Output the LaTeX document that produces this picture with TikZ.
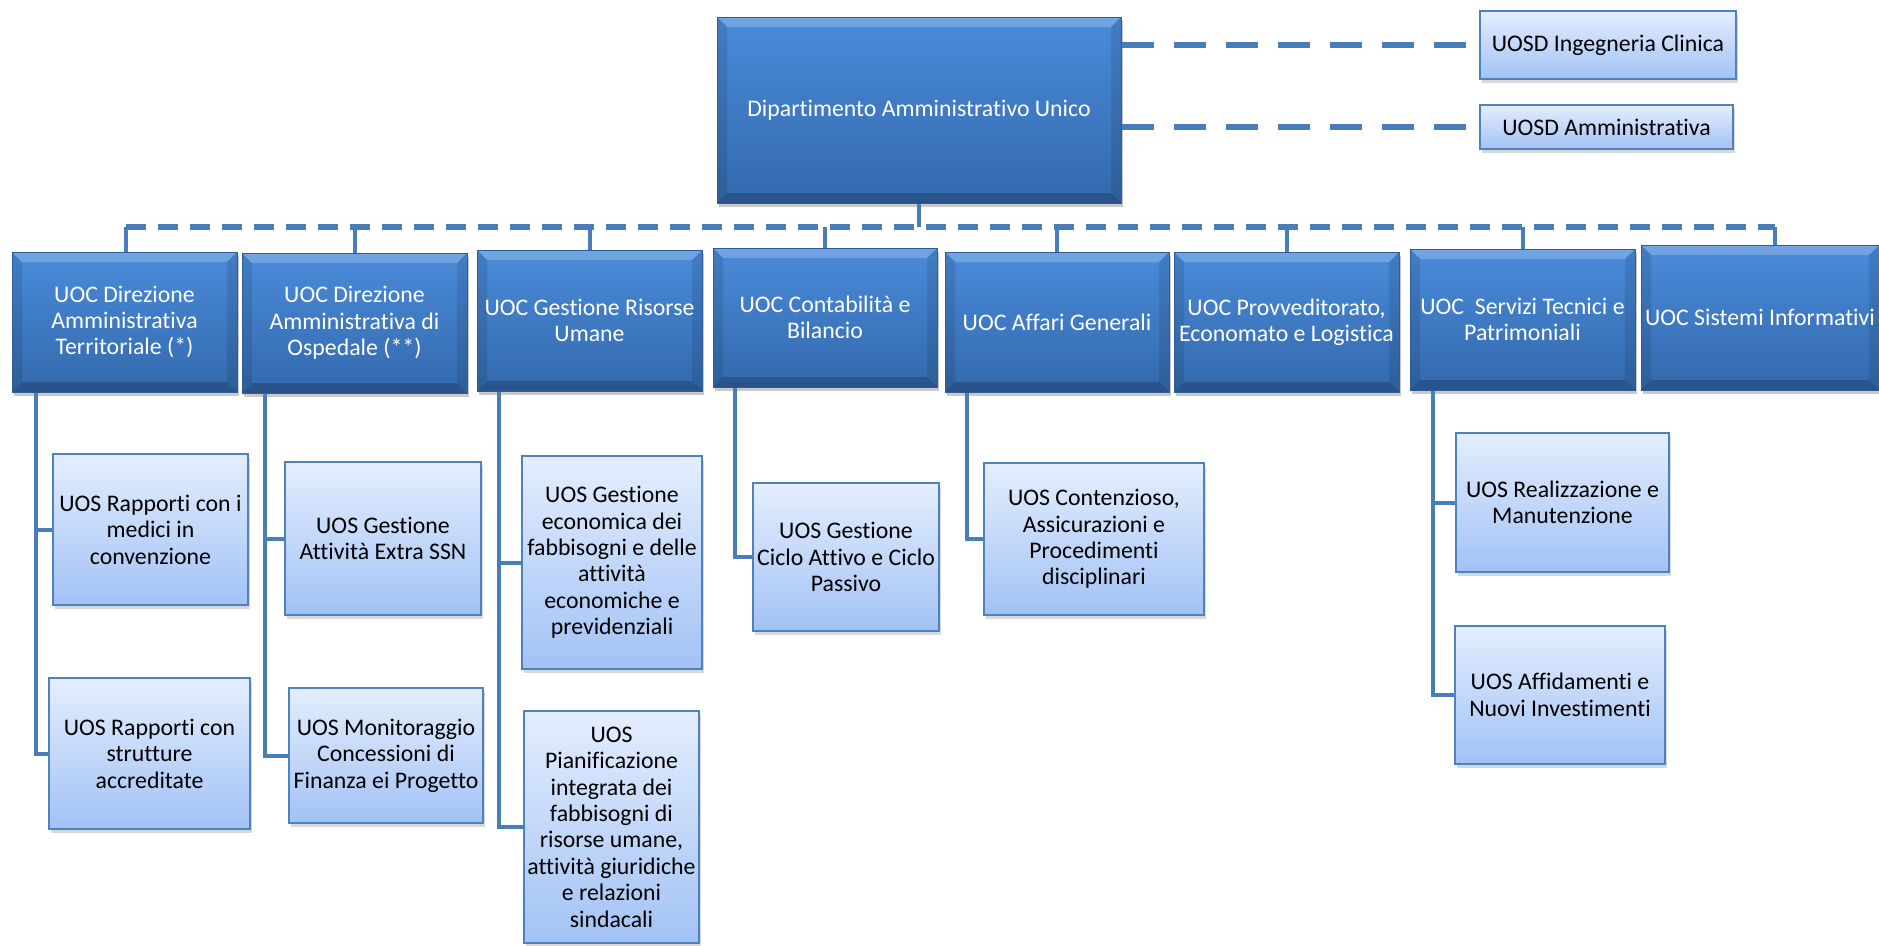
\documentclass[tikz,border=0pt]{standalone}
\usepackage{fontspec}
\setmainfont{Carlito}[Ligatures=NoCommon]
\usetikzlibrary{shadows}
\definecolor{linec}{HTML}{4A7EBB}
\definecolor{uoctop}{HTML}{4A8BDA}
\definecolor{uocbot}{HTML}{3369AC}
\definecolor{uocedge}{HTML}{2E5C94}
\definecolor{uostop}{HTML}{E4EEFE}
\definecolor{uosbot}{HTML}{A2C2F5}
\definecolor{uosedge}{HTML}{4F81BD}
\tikzset{
  txt/.style={font=\fontsize{23.8}{26.4}\selectfont, align=center, inner sep=0.5pt},
  bevel/.style={path picture={
    \fill[white,opacity=0.22] (path picture bounding box.north west) -- (path picture bounding box.north east)
      -- ([shift={(-10pt,-10pt)}]path picture bounding box.north east) -- ([shift={(10pt,-10pt)}]path picture bounding box.north west) -- cycle;
    \fill[black,opacity=0.20] (path picture bounding box.south west) -- (path picture bounding box.south east)
      -- ([shift={(-10pt,10pt)}]path picture bounding box.south east) -- ([shift={(10pt,10pt)}]path picture bounding box.south west) -- cycle;
    \fill[black,opacity=0.10] (path picture bounding box.south west) -- (path picture bounding box.north west)
      -- ([shift={(10pt,-10pt)}]path picture bounding box.north west) -- ([shift={(10pt,10pt)}]path picture bounding box.south west) -- cycle;
    \fill[black,opacity=0.10] (path picture bounding box.south east) -- (path picture bounding box.north east)
      -- ([shift={(-10pt,-10pt)}]path picture bounding box.north east) -- ([shift={(-10pt,10pt)}]path picture bounding box.south east) -- cycle;
  }},
  uoc/.style={txt, rectangle, text=white, draw=uocedge, line width=1pt, top color=uoctop, bottom color=uocbot, bevel,
    drop shadow={shadow xshift=2pt, shadow yshift=-4pt, opacity=0.35, fill=black!60}},
  uos/.style={txt, rectangle, text=black, draw=uosedge, line width=2pt, top color=uostop, bottom color=uosbot,
    drop shadow={shadow xshift=2pt, shadow yshift=-4pt, opacity=0.3, fill=black!50}},
  conn/.style={draw=linec, line width=4pt},
  bus/.style={draw=linec, line width=6pt, dash pattern=on 20pt off 12pt},
  dlink/.style={draw=linec, line width=6pt, dash pattern=on 32pt off 20pt},
}
\begin{document}
\begin{tikzpicture}[x=1pt,y=-1pt]
\useasboundingbox (0,0) rectangle (1879,945);
\fill[white] (0,0) rectangle (1879,945);

% top level
\node[uoc, minimum width=404, minimum height=186] (main) at (919,110) {Dipartimento Amministrativo Unico};
\node[uos, minimum width=256, minimum height=68] (ing) at (1608,45) {UOSD Ingegneria Clinica};
\node[uos, minimum width=253, minimum height=44] (amm) at (1606.5,127) {UOSD Amministrativa};

% UOC row
\node[uoc, minimum width=225, minimum height=140] (c1) at (124.5,322) {UOC Direzione\\Amministrativa\\Territoriale (*)};
\node[uoc, minimum width=225, minimum height=140] (c2) at (354.5,323) {UOC Direzione\\Amministrativa di\\Ospedale (**)};
\node[uoc, minimum width=225, minimum height=141] (c3) at (589.5,320.5) {UOC Gestione Risorse\\Umane};
\node[uoc, minimum width=224, minimum height=139] (c4) at (825,317.5) {UOC Contabilità e\\Bilancio};
\node[uoc, minimum width=224, minimum height=140] (c5) at (1057,322) {UOC Affari Generali};
\node[uoc, minimum width=225, minimum height=140] (c6) at (1286.5,322) {UOC Provveditorato,\\Economato e Logistica};
\node[uoc, minimum width=225, minimum height=141] (c7) at (1522.5,319.5) {UOC\ \ Servizi Tecnici e\\Patrimoniali};
\node[uoc, minimum width=238, minimum height=145] (c8) at (1760,317.5) {UOC Sistemi Informativi};

% UOS boxes
\node[uos, minimum width=195, minimum height=151] (s1a) at (150.5,529.5) {UOS Rapporti con i\\medici in\\convenzione};
\node[uos, minimum width=201, minimum height=151] (s1b) at (149.5,753.5) {UOS Rapporti con\\strutture\\accreditate};
\node[uos, minimum width=196, minimum height=153] (s2a) at (383,538.5) {UOS Gestione\\Attività Extra SSN};
\node[uos, minimum width=194, minimum height=135] (s2b) at (386,755.5) {UOS Monitoraggio\\Concessioni di\\Finanza ei Progetto};
\node[uos, minimum width=180, minimum height=213] (s3a) at (612,562.5) {UOS Gestione\\economica dei\\fabbisogni e delle\\attività\\economiche e\\previdenziali};
\node[uos, minimum width=175, minimum height=232] (s3b) at (611.5,827) {UOS\\Pianificazione\\integrata dei\\fabbisogni di\\risorse umane,\\attività giuridiche\\e relazioni\\sindacali};
\node[uos, minimum width=186, minimum height=148] (s4) at (846,557) {UOS Gestione\\Ciclo Attivo e Ciclo\\Passivo};
\node[uos, minimum width=220, minimum height=152] (s5) at (1094,539) {UOS Contenzioso,\\Assicurazioni e\\Procedimenti\\disciplinari};
\node[uos, minimum width=213, minimum height=139] (s7a) at (1562.5,502.5) {UOS Realizzazione e\\Manutenzione};
\node[uos, minimum width=210, minimum height=138] (s7b) at (1560,695) {UOS Affidamenti e\\Nuovi Investimenti};

% dashed links to UOSD
\draw[dlink] (main.east |- ing.west) -- (ing.west);
\draw[dlink] (main.east |- amm.west) -- (amm.west);

% bus
\coordinate (busL) at (126,227);
\coordinate (busR) at (1775,227);
\draw[bus] (busL) -- (busR);
\draw[conn] (main.south) -- (main.south |- busL);
\draw[conn] (busL) -- ([xshift=1.5pt]c1.north);
\draw[conn] (c2.north |- busL) -- (c2.north);
\draw[conn] (c3.north |- busL) -- (c3.north);
\draw[conn] (c4.north |- busL) -- (c4.north);
\draw[conn] (c5.north |- busL) -- (c5.north);
\draw[conn] (c6.north |- busL) -- (c6.north);
\draw[conn] (c7.north |- busL) -- (c7.north);
\draw[conn] (busR) -- ([xshift=15pt]c8.north);

% spines
\draw[conn] ([xshift=24pt]c1.south west) |- (s1a.west);
\draw[conn] ([xshift=24pt]c1.south west) |- (s1b.west);
\draw[conn] ([xshift=23pt]c2.south west) |- (s2a.west);
\draw[conn] ([xshift=23pt]c2.south west) |- (s2b.west);
\draw[conn] ([xshift=22pt]c3.south west) |- (s3a.west);
\draw[conn] ([xshift=22pt]c3.south west) |- (s3b.west);
\draw[conn] ([xshift=22pt]c4.south west) |- (s4.west);
\draw[conn] ([xshift=22pt]c5.south west) |- (s5.west);
\draw[conn] ([xshift=23pt]c7.south west) |- (s7a.west);
\draw[conn] ([xshift=23pt]c7.south west) |- (s7b.west);
\end{tikzpicture}
\end{document}
